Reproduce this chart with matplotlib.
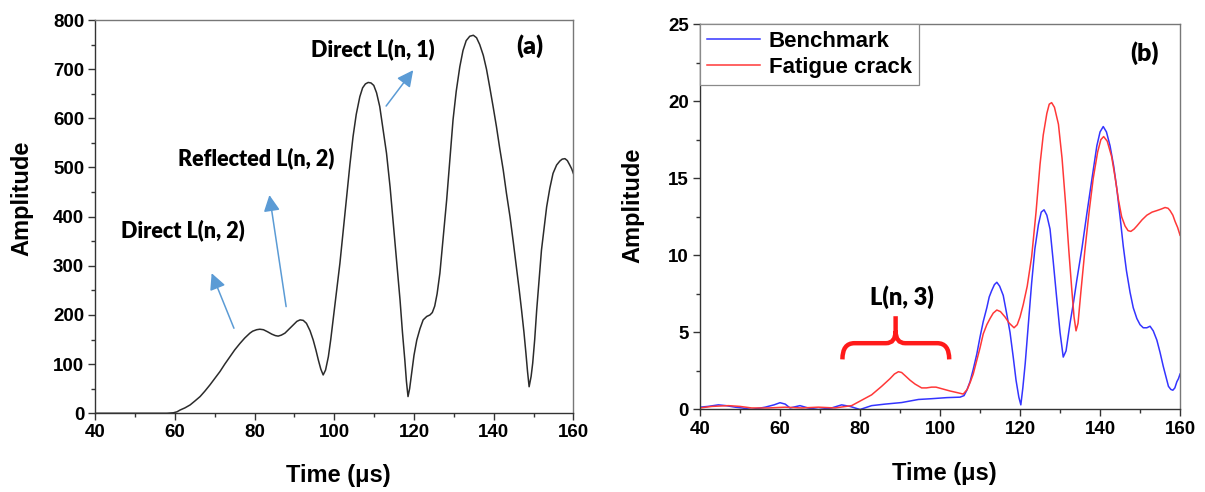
import numpy as np
import matplotlib.pyplot as plt
from matplotlib.path import Path
from matplotlib.patches import PathPatch
from matplotlib.ticker import MultipleLocator

plt.rcParams["font.family"] = ["Liberation Sans", "DejaVu Sans"]
plt.rcParams["font.weight"] = "bold"

# (a) signal envelope, time in microseconds
t_a = [40, 50, 58, 59.6, 60.5, 61.3, 62.5, 63.8, 65, 66.3, 67.5, 68.8, 70, 71.3, 72.5,
       73.8, 75, 76.3, 77.5, 78.8, 79.5, 80.5, 81.3, 82.2, 83.2, 84.3, 85.2, 85.9,
       86.7, 87.6, 88.6, 89.7, 90.6, 91.4, 92.2, 93.0, 93.9, 94.7, 95.4, 96.0, 96.6,
       97.2, 97.8, 98.5, 99.1, 99.7, 100.5, 101.4, 102.2, 103.1, 103.9, 104.7, 105.5,
       106.4, 107.1, 107.8, 108.5, 109.2, 109.9, 110.6, 111.4, 112.2, 113.1, 114.0,
       114.8, 115.6, 116.5, 117.1, 117.7, 118.1, 118.5, 118.9, 119.4, 120.0, 120.7,
       121.5, 122.3, 123.2, 124.0, 124.6, 125.2, 125.8, 126.5, 127.3, 128.2, 129.0,
       129.8, 130.6, 131.5, 132.3, 133.1, 134.0, 134.9, 135.7, 136.5, 137.4, 138.2,
       139.0, 139.9, 140.7, 141.5, 142.4, 143.2, 144.1, 144.9, 145.7, 146.4, 147.0,
       147.6, 148.1, 148.5, 148.9, 149.4, 149.8, 150.3, 150.8, 151.4, 152.0, 152.7,
       153.3, 154.1, 154.9, 155.8, 156.6, 157.2, 157.9, 158.5, 159.1, 159.6, 160]
amp_a = [0, 0, 0, 1, 3, 6.7, 11, 17, 25, 34, 45, 58, 71, 85, 100,
         115, 129, 142, 153, 163, 167, 170, 171, 170, 166, 161, 158, 157,
         159, 163, 171, 180, 187, 190, 189, 183, 168, 149, 128, 108, 90,
         78, 88, 115, 150, 190, 245, 305, 370, 441, 505, 563, 608,
         644, 662, 670, 673, 672, 667, 652, 624, 580, 529, 460,
         386, 310, 230, 165, 108, 65, 34, 50, 81, 118, 149,
         172, 190, 197, 200, 205, 218, 243, 285, 355, 434, 515,
         597, 655, 705, 738, 758, 767, 769, 764, 750, 728, 700,
         664, 622, 583, 540, 495, 448, 400, 350, 298, 252, 210,
         165, 122, 85, 54, 75, 102, 150, 210, 272, 332, 380,
         420, 458, 488, 505, 513, 517, 518, 514, 505, 497, 488]

# (b) benchmark and fatigue crack envelopes
t_bench = [40, 42, 44.6, 46.5, 48.8, 50.5, 52.9, 56.3, 58.5, 60, 61.3, 62.5, 65, 67,
           69.6, 72.9, 75.4, 77.5, 80, 82.9, 86.3, 90.4, 94.6, 97.9, 101.7, 105, 106,
           106.7, 107.5, 108.3, 109.2, 110, 110.8, 111.7, 112.3, 112.9, 113.6, 114.2,
           114.9, 115.8, 116.6, 117.5, 118.3, 119, 119.7, 120.2, 120.7, 121.3, 122.1,
           122.9, 123.7, 124.6, 125.3, 126, 126.7, 127.5, 128.3, 129.1, 130, 130.8,
           131.5, 132.5, 133.4, 134.2, 135.5, 136.7, 138, 139.2, 140, 140.8, 141.6,
           142.5, 143.4, 144.2, 145, 145.8, 146.6, 147.5, 148.3, 149.2, 150, 150.8,
           151.7, 152.5, 153.3, 154.2, 155, 155.8, 156.5, 157.1, 157.7, 158.2, 158.7,
           159.2, 159.6, 160]
bench = [0.15, 0.2, 0.3, 0.25, 0.15, 0.1, 0.0, 0.15, 0.3, 0.44, 0.35, 0.1, 0.25, 0.1,
         0.0, 0.1, 0.3, 0.2, 0.0, 0.25, 0.35, 0.45, 0.65, 0.7, 0.77, 0.8, 0.9,
         1.25, 1.8, 2.6, 3.6, 4.7, 5.7, 6.6, 7.3, 7.7, 8.1, 8.25,
         8.0, 7.4, 6.3, 5.0, 3.4, 1.9, 0.8, 0.3, 1.4, 3.0, 5.6,
         8.2, 10.4, 12.0, 12.8, 12.95, 12.6, 11.7, 9.6, 7.4, 5.0, 3.4,
         3.8, 5.6, 7.0, 8.4, 10.5, 12.7, 15.0, 17.1, 18.0, 18.35, 18.0,
         17.1, 15.8, 14.3, 12.5, 10.6, 9.0, 7.6, 6.6, 5.9, 5.5, 5.3,
         5.3, 5.4, 5.1, 4.5, 3.7, 2.8, 2.1, 1.5, 1.3, 1.25, 1.4,
         1.8, 2.0, 2.3]

t_crack = [40, 43, 47.1, 50, 52.9, 57.1, 61.25, 65.4, 69.6, 73.75, 77.9, 80.4, 82.9,
           85.4, 87.5, 88.6, 89.6, 90.4, 91.25, 92.5, 93.75, 95.4, 96.6, 97.9, 99,
           100.4, 102.5, 104.2, 105.8, 106.8, 107.6, 108.3, 109.1, 110, 110.8, 111.7,
           112.5, 113.3, 114.2, 115.1, 116.25, 117.3, 118.5, 119.3, 120, 120.8, 121.8,
           122.9, 124, 125, 125.8, 126.7, 127.3, 127.9, 128.6, 129.6, 130.5, 131.4,
           132.2, 132.9, 133.5, 134, 134.5, 135.2, 136.2, 137.3, 138.3, 139.4, 140.2,
           140.9, 141.8, 142.9, 143.8, 144.6, 145.4, 146.25, 147, 147.7, 148.5, 149.2,
           150.5, 151.7, 153, 154.2, 155.3, 156.25, 157, 157.5, 158.2, 158.75, 159.4,
           160]
crack = [0.1, 0.2, 0.25, 0.2, 0.1, 0.1, 0.15, 0.1, 0.15, 0.1, 0.25, 0.6, 0.95,
         1.5, 2.0, 2.3, 2.45, 2.4, 2.2, 1.9, 1.65, 1.4, 1.4, 1.45, 1.45,
         1.35, 1.2, 1.1, 1.0, 1.3, 1.8, 2.3, 3.1, 4.0, 4.9, 5.5,
         5.9, 6.25, 6.45, 6.35, 6.0, 5.6, 5.3, 5.5, 6.0, 6.8, 8.0,
         9.9, 12.8, 15.9, 17.8, 19.2, 19.8, 19.9, 19.6, 18.5, 16.3, 13.3,
         10.3, 7.9, 6.0, 5.1, 5.6, 7.6, 10.3, 12.9, 15.0, 16.7, 17.5,
         17.7, 17.4, 16.4, 15.0, 13.6, 12.5, 11.9, 11.6, 11.55, 11.7, 11.9,
         12.3, 12.6, 12.8, 12.9, 13.0, 13.1, 13.05, 12.9, 12.6, 12.2, 11.8,
         11.3]

series_labels = ["Benchmark", "Fatigue crack"]

LABEL_FONT = dict(family="Liberation Sans", weight="bold", size=17)
NOTE_FONT = dict(family="Lato", weight="heavy", size=15.5)
ARROW_BLUE = "#5b9bd5"

fig = plt.figure(figsize=(12.05, 4.92), dpi=100)
ax1 = fig.add_axes([0.0791, 0.16, 0.3967, 0.7993])
ax2 = fig.add_axes([0.5809, 0.1677, 0.3984, 0.7835])


def style_axes(ax, ymax, ymajor, yminor):
    ax.set_xlim(40, 160)
    ax.set_ylim(0, ymax)
    ax.xaxis.set_major_locator(MultipleLocator(20))
    ax.xaxis.set_minor_locator(MultipleLocator(10))
    ax.yaxis.set_major_locator(MultipleLocator(ymajor))
    ax.yaxis.set_minor_locator(MultipleLocator(yminor))
    ax.tick_params(which="major", direction="out", length=5, width=1,
                   color="#333333", pad=3, labelsize=13.5)
    ax.tick_params(which="minor", direction="out", length=3, width=1,
                   color="#333333")
    for side in ("left", "bottom"):
        ax.spines[side].set_color("#333333")
        ax.spines[side].set_linewidth(1.0)
    for side in ("top", "right"):
        ax.spines[side].set_color("#777777")
        ax.spines[side].set_linewidth(1.0)
    ax.set_xlabel("Time (\u03bcs)", **LABEL_FONT)
    ax.set_ylabel("Amplitude", **LABEL_FONT)


# panel (a)
ax1.plot(t_a, amp_a, color="#2b2b2b", lw=1.1)
style_axes(ax1, 800, 100, 50)
ax1.xaxis.set_label_coords(0.508, -0.13)
ax1.yaxis.set_label_coords(-0.13, 0.547)

ax1.text(62.1, 373, "Direct L(n, 2)", ha="center", va="center", **NOTE_FONT)
ax1.text(80.3, 519, "Reflected L(n, 2)", ha="center", va="center", **NOTE_FONT)
ax1.text(109.6, 740, "Direct L(n, 1)", ha="center", va="center", **NOTE_FONT)
ax1.text(149.1, 746, "(a)", ha="center", va="center",
         family="Lato", weight="heavy", size=18)

arrows = [((74.8, 173), (69.2, 285)),
          ((87.9, 217), (83.7, 444)),
          ((113.0, 625), (119.8, 698))]
for tail, head in arrows:
    ax1.annotate("", xy=head, xytext=tail,
                 arrowprops=dict(arrowstyle="-|>,head_length=0.7,head_width=0.35",
                                 mutation_scale=14, color=ARROW_BLUE, lw=1.1,
                                 shrinkA=0, shrinkB=0))

# panel (b)
ax2.plot(t_bench, bench, color="#3434ff", lw=1.1, label=series_labels[0])
ax2.plot(t_crack, crack, color="#ff3838", lw=1.1, label=series_labels[1])
style_axes(ax2, 25, 5, 2.5)
ax2.xaxis.set_label_coords(0.508, -0.135)
ax2.yaxis.set_label_coords(-0.115, 0.53)

leg = ax2.legend(loc="upper left", bbox_to_anchor=(0, 1), borderaxespad=0,
                 prop=dict(family="Liberation Sans", weight="bold", size=16),
                 handlelength=2.4, handletextpad=0.4, labelspacing=0.25,
                 borderpad=0.3, fancybox=False, framealpha=1)
leg.get_frame().set_edgecolor("#8a8a8a")
leg.get_frame().set_linewidth(0.9)

ax2.text(151.2, 23.1, "(b)", ha="center", va="center",
         family="Lato", weight="heavy", size=18)
ax2.text(90.4, 7.3, "L(n, 3)", ha="center", va="center",
         family="Lato", weight="heavy", size=17)

# curly brace over the L(n, 3) arrival
xl, xm, xr = 75.6, 88.9, 102.3
y_end, y_bar, y_tip = 3.25, 4.3, 6.05
verts = [(xl, y_end), (xl, y_bar), (xl + 3.0, y_bar),
         (xm - 2.4, y_bar), (xm, y_bar), (xm, y_bar + 0.8),
         (xm, y_tip),
         (xm, y_bar + 0.8), (xm, y_bar), (xm + 2.4, y_bar),
         (xr - 3.0, y_bar), (xr, y_bar), (xr, y_end)]
codes = [Path.MOVETO, Path.CURVE3, Path.CURVE3,
         Path.LINETO, Path.CURVE3, Path.CURVE3,
         Path.LINETO,
         Path.MOVETO, Path.CURVE3, Path.CURVE3,
         Path.LINETO, Path.CURVE3, Path.CURVE3]
ax2.add_patch(PathPatch(Path(verts, codes), facecolor="none",
                        edgecolor="#ff1a1a", lw=3.2, capstyle="butt"))

fig.savefig("out.png", dpi=100)
